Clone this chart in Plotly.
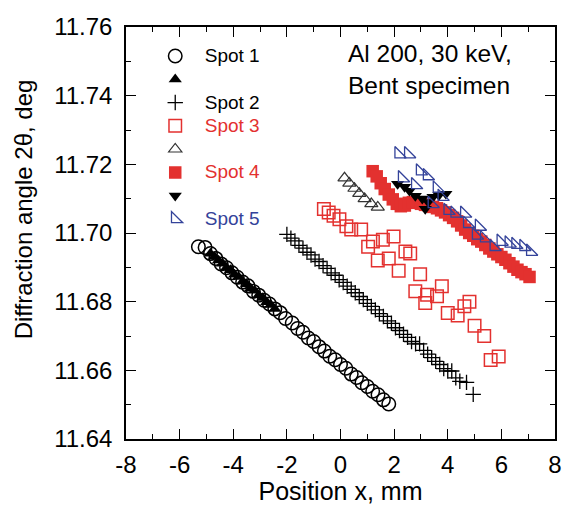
import plotly.graph_objects as go

# ---- data ----
spot1_x = [-5.3, -5.05, -4.85, -4.65, -4.45, -4.25, -4.05, -3.85, -3.65, -3.45, -3.25, -3.05,
           -2.85, -2.65, -2.45, -2.25, -2.05, -1.8, -1.6, -1.4, -1.2, -1.0, -0.8, -0.6, -0.4,
           -0.2, 0.0, 0.2, 0.4, 0.6, 0.8, 1.0, 1.2, 1.4, 1.6, 1.8]
spot1_y = [11.6960, 11.6958, 11.6940, 11.6926, 11.6910, 11.6899, 11.6884, 11.6871, 11.6857,
           11.6846, 11.6830, 11.6819, 11.6804, 11.6793, 11.6779, 11.6768, 11.6751, 11.6738,
           11.6722, 11.6711, 11.6694, 11.6684, 11.6669, 11.6656, 11.6641, 11.6631, 11.6617,
           11.6606, 11.6589, 11.6579, 11.6564, 11.6553, 11.6539, 11.6529, 11.6514, 11.6502]

spot1b_x = [-4.85, -4.7, -4.55, -4.4, -4.25, -4.1, -3.95, -3.8, -3.65, -3.5, -3.35, -3.2,
            -3.05, -2.9, -2.75, -2.6, -2.45]
spot1b_y = [11.6940, 11.6931, 11.6920, 11.6911, 11.6899, 11.6892, 11.6879, 11.6872, 11.6859,
            11.6851, 11.6839, 11.6832, 11.6819, 11.6811, 11.6799, 11.6791, 11.6779]

spot2_x = [-2.0, -1.85, -1.7, -1.55, -1.4, -1.25, -1.1, -0.95, -0.8, -0.65, -0.5, -0.35, -0.2,
           -0.05, 0.1, 0.25, 0.4, 0.55, 0.7, 0.85, 1.0, 1.15, 1.3, 1.45, 1.6, 1.75, 1.9, 2.05,
           2.2, 2.35, 2.5, 2.65, 2.8, 2.95, 3.1, 3.25, 3.4, 3.55, 3.7, 3.85, 4.0, 4.15, 4.3,
           4.45, 4.7, 4.95]
spot2_y = [11.6996, 11.6985, 11.6977, 11.6964, 11.6956, 11.6944, 11.6936, 11.6924, 11.6917,
           11.6905, 11.6897, 11.6884, 11.6877, 11.6864, 11.6856, 11.6845, 11.6836, 11.6826,
           11.6815, 11.6806, 11.6795, 11.6786, 11.6776, 11.6765, 11.6757, 11.6744, 11.6737,
           11.6724, 11.6716, 11.6705, 11.6696, 11.6684, 11.6677, 11.6677, 11.6658, 11.6647,
           11.6637, 11.6626, 11.6617, 11.6605, 11.6598, 11.6598, 11.6578, 11.6568, 11.6565,
           11.6530]

spot3_x = [-0.62, -0.44, -0.26, -0.04, 0.22, 0.40, 0.77, 1.03, 1.21, 1.58, 1.98, 1.39, 1.80,
           2.42, 2.60, 2.17, 2.97, 2.79, 3.23, 3.78, 3.16, 3.60, 4.00, 4.37, 4.62, 4.81, 5.00,
           5.36, 5.60, 5.90]
spot3_y = [11.7070, 11.7060, 11.7050, 11.7040, 11.7020, 11.7010, 11.7010, 11.6960, 11.6975,
           11.6980, 11.6990, 11.6920, 11.6926, 11.6946, 11.6940, 11.6890, 11.6880, 11.6830,
           11.6820, 11.6845, 11.6796, 11.6816, 11.6767, 11.6760, 11.6787, 11.6800, 11.6730,
           11.6700, 11.6630, 11.6640]

spot3b_x = [0.15, 0.33, 0.52, 0.70, 0.90, 1.15, 1.39]
spot3b_y = [11.7160, 11.7145, 11.7130, 11.7115, 11.7100, 11.7085, 11.7075]

spot4_x = [1.2, 1.35, 1.5, 1.65, 1.8, 1.95, 2.1, 2.25, 2.4, 2.55, 2.7, 2.85, 3.0, 3.15, 3.3,
           3.45, 3.6, 3.75, 3.9, 4.05, 4.2, 4.35, 4.5, 4.65, 4.8, 4.95, 5.1, 5.25, 5.4, 5.55,
           5.7, 5.85, 6.0, 6.15, 6.3, 6.45, 6.6, 6.75, 6.9, 7.05]
spot4_y = [11.7180, 11.7165, 11.7145, 11.7128, 11.7112, 11.7098, 11.7085, 11.7078, 11.7080,
           11.7088, 11.7090, 11.7088, 11.7085, 11.7082, 11.7080, 11.7076, 11.7072, 11.7066,
           11.7060, 11.7052, 11.7044, 11.7034, 11.7022, 11.7010, 11.7000, 11.6992, 11.6982,
           11.6975, 11.6965, 11.6955, 11.6946, 11.6938, 11.6930, 11.6922, 11.6912, 11.6902,
           11.6893, 11.6886, 11.6880, 11.6872]

spot4b_x = [2.13, 2.39, 2.57, 2.79, 3.05, 3.16, 3.27, 3.45, 3.67, 3.93]
spot4b_y = [11.7143, 11.7134, 11.7123, 11.7108, 11.7100, 11.7070, 11.7090, 11.7105, 11.7110,
            11.7114]

spot5_x = [2.17, 2.53, 2.30, 2.79, 2.97, 3.23, 3.41, 3.60, 3.78, 4.00, 4.26, 4.62, 4.73, 5.06,
           5.17, 5.36, 5.72, 5.98, 6.28, 6.53, 6.83, 7.08]
spot5_y = [11.7230, 11.7230, 11.7160, 11.7140, 11.7180, 11.7166, 11.7085, 11.7130, 11.7106,
           11.7065, 11.7057, 11.7057, 11.7027, 11.6993, 11.7019, 11.6985, 11.6960, 11.6975,
           11.6970, 11.6966, 11.6960, 11.6946]

x_tickvals = [-8, -6, -4, -2, 0, 2, 4, 6, 8]
x_ticktext = ["-8", "-6", "-4", "-2", "0", "2", "4", "6", "8"]

RED = "#e3312f"
BLUE = "#34439a"
FONT = "Liberation Sans"
LEG_FS = 19

def lab(text, color="black"):
    return f"<span style='color:{color};font-size:{LEG_FS}px'>{text}</span>"

fig = go.Figure()

def add(x, y, name, symbol, color, size, lw=1.5, fill=None):
    fig.add_trace(go.Scatter(
        x=x, y=y, mode="markers", name=name,
        marker=dict(symbol=symbol, size=size, color=fill if fill else color,
                    line=dict(color=color, width=lw)),
    ))

add(spot1_x, spot1_y, lab("Spot 1"), "circle-open", "black", 13.5)
add(spot1b_x, spot1b_y, "", "triangle-up", "black", 11.5, lw=0)
add(spot2_x, spot2_y, lab("Spot 2"), "cross-thin-open", "black", 11, lw=1.3)
add(spot3_x, spot3_y, lab("Spot 3", RED), "square-open", RED, 12.5)
add(spot3b_x, spot3b_y, "", "triangle-up-open", "#333333", 11.5, lw=1.2)
add(spot4_x, spot4_y, lab("Spot 4", RED), "square", RED, 12.5, lw=0)
add(spot4b_x, spot4b_y, "", "triangle-down", "black", 11.5, lw=0)
add(spot5_x, spot5_y, lab("Spot 5", BLUE), "triangle-sw-open", BLUE, 12.5, lw=1.3)

axis_common = dict(
    showline=True, linecolor="black", linewidth=1.5, mirror="ticks",
    ticks="inside", ticklen=10, tickwidth=1.2, tickcolor="black",
    showgrid=False, zeroline=False,
    tickfont=dict(family=FONT, size=24, color="black"),
)

fig.update_xaxes(
    range=[-8, 8], tickmode="array", tickvals=x_tickvals, ticktext=x_ticktext,
    minor=dict(ticks="inside", ticklen=5, dtick=1, tick0=-8, tickcolor="black", tickwidth=1.2),
    title=dict(text="Position x, mm", font=dict(family=FONT, size=25, color="black"), standoff=2),
    ticklabelstandoff=3,
    **axis_common,
)
fig.update_yaxes(
    range=[11.64, 11.76], dtick=0.02, tick0=11.64, tickformat=".2f",
    minor=dict(ticks="inside", ticklen=5, dtick=0.01, tickcolor="black", tickwidth=1.2),
    ticklabelstandoff=7,
    **axis_common,
)

fig.add_annotation(
    text="Diffraction angle 2θ, deg", textangle=-90,
    xref="paper", yref="paper", x=-0.2385, y=0.5566, xanchor="center", yanchor="middle",
    showarrow=False, font=dict(family=FONT, size=24, color="black"),
)
fig.add_annotation(
    text="Al 200, 30 keV,<br>Bent specimen", align="left",
    xref="paper", yref="paper", x=(350 - 126) / 436, y=1 - (70 - 27) / 415,
    xanchor="left", yanchor="middle",
    showarrow=False, font=dict(family=FONT, size=24.5, color="black"),
)

fig.update_layout(
    width=570, height=505,
    margin=dict(l=126, r=8, t=27, b=63),
    paper_bgcolor="white", plot_bgcolor="white",
    font=dict(family=FONT, color="black"),
    showlegend=True,
    legend=dict(
        x=0.046, y=0.970, xanchor="left", yanchor="top",
        bgcolor="rgba(0,0,0,0)", borderwidth=0,
        font=dict(family=FONT, size=15.6, color="black"),
        itemwidth=49, tracegroupgap=0,
    ),
)

fig.write_html("out.html")
